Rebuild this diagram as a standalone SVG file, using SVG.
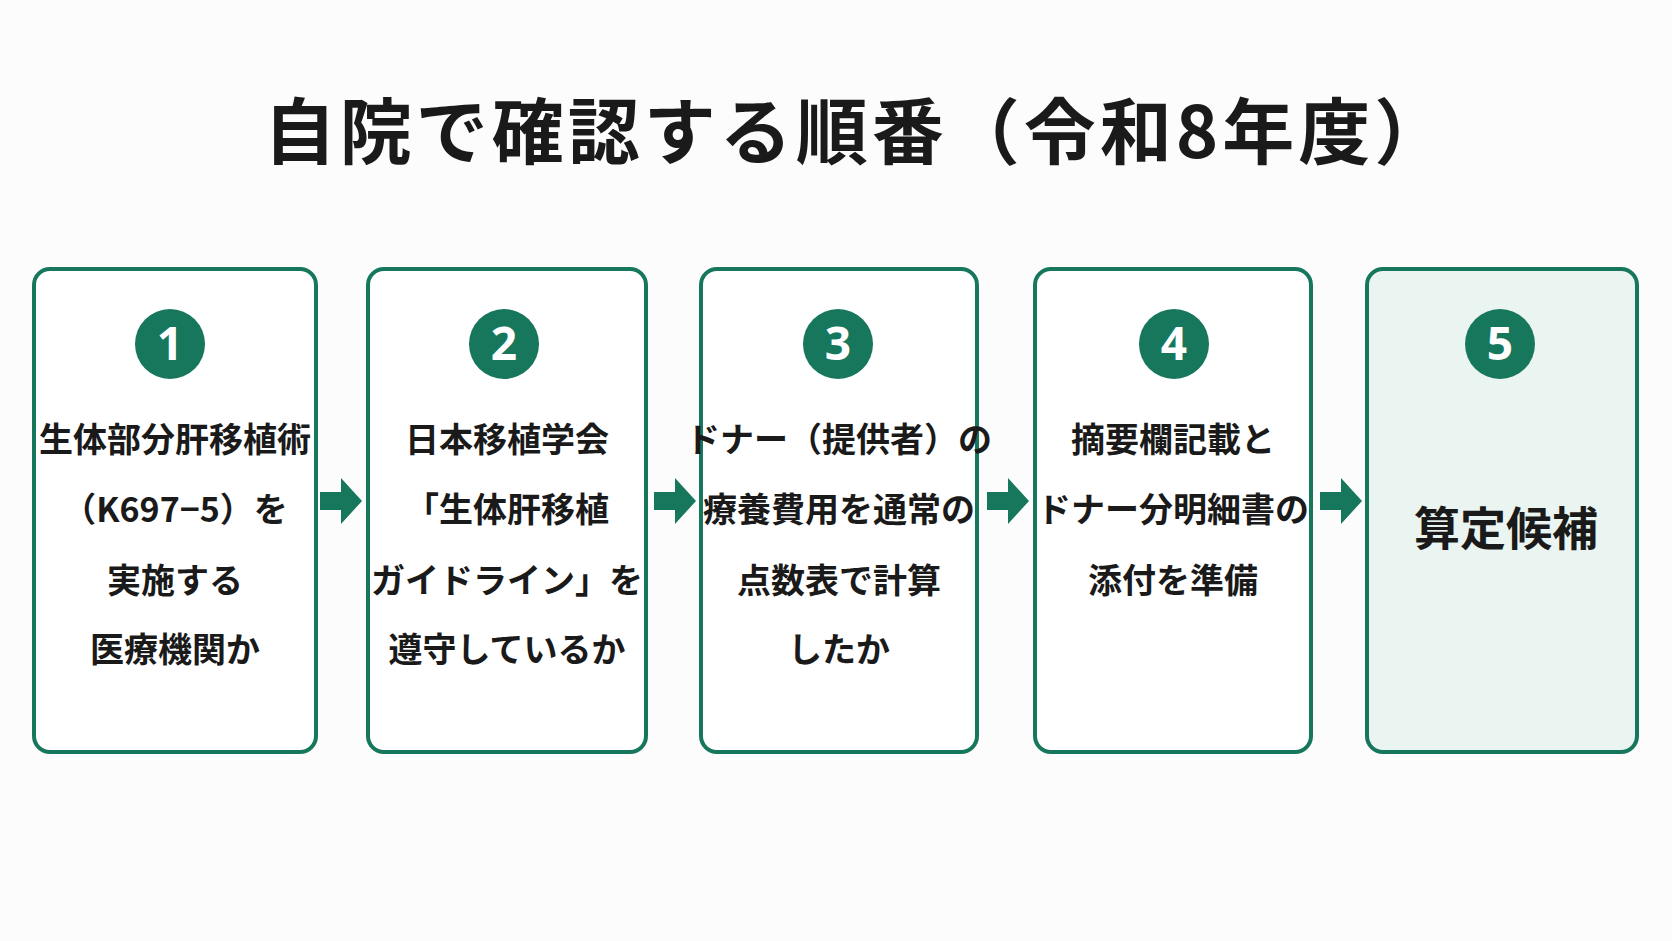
<svg xmlns="http://www.w3.org/2000/svg" width="1672" height="941" viewBox="0 0 1672 941">
<style>
text{font-family:"Noto Sans CJK JP","Noto Sans",sans-serif;font-weight:700;fill:#1a1a1a;text-anchor:middle}
.box{fill:#fff;stroke:#17775d;stroke-width:4}
.num{fill:#17775d}
.n{fill:#fff;font-family:"Noto Sans",sans-serif;font-size:46px}
.t{font-size:34px}
.ar{fill:#17775d}
</style>
<rect width="1672" height="941" fill="#fcfcfc"/>
<text x="857" y="158" style="font-size:72px;letter-spacing:4px">自院で確認する順番（令和8年度）</text>
<g id="connectors">
<polygon class="ar" points="320,492 341,492 341,478 362,501 341,524 341,510 320,510"/>
<polygon class="ar" points="654,492 675,492 675,478 696,501 675,524 675,510 654,510"/>
<polygon class="ar" points="987,492 1008,492 1008,478 1029,501 1008,524 1008,510 987,510"/>
<polygon class="ar" points="1320,492 1341,492 1341,478 1362,501 1341,524 1341,510 1320,510"/>
</g>
<g id="n1"><rect class="box" x="34" y="269" width="282" height="483" rx="16"/><circle class="num" cx="170" cy="344" r="35"/><text class="n" x="170" y="360">1</text>
<text class="t" x="175" y="452">生体部分肝移植術</text><text class="t" x="175" y="522">（K697−5）を</text><text class="t" x="175" y="593">実施する</text><text class="t" x="175" y="662">医療機関か</text></g>
<g id="n2"><rect class="box" x="368" y="269" width="278" height="483" rx="16"/><circle class="num" cx="504" cy="344" r="35"/><text class="n" x="504" y="360">2</text>
<text class="t" x="507" y="452">日本移植学会</text><text class="t" x="507" y="522">「生体肝移植</text><text class="t" x="507" y="593">ガイドライン」を</text><text class="t" x="507" y="662">遵守しているか</text></g>
<g id="n3"><rect class="box" x="701" y="269" width="276" height="483" rx="16"/><circle class="num" cx="838" cy="344" r="35"/><text class="n" x="838" y="360">3</text>
<text class="t" x="839" y="452">ドナー（提供者）の</text><text class="t" x="839" y="522">療養費用を通常の</text><text class="t" x="839" y="593">点数表で計算</text><text class="t" x="839" y="662">したか</text></g>
<g id="n4"><rect class="box" x="1035" y="269" width="276" height="483" rx="16"/><circle class="num" cx="1174" cy="344" r="35"/><text class="n" x="1174" y="360">4</text>
<text class="t" x="1173" y="452">摘要欄記載と</text><text class="t" x="1173" y="522">ドナー分明細書の</text><text class="t" x="1173" y="593">添付を準備</text></g>
<g id="n5"><rect class="box" x="1367" y="269" width="270" height="483" rx="16" style="fill:#eaf4f0"/><circle class="num" cx="1500" cy="344" r="35"/><text class="n" x="1500" y="360">5</text>
<text x="1506" y="545" style="font-size:46px">算定候補</text></g>
</svg>
